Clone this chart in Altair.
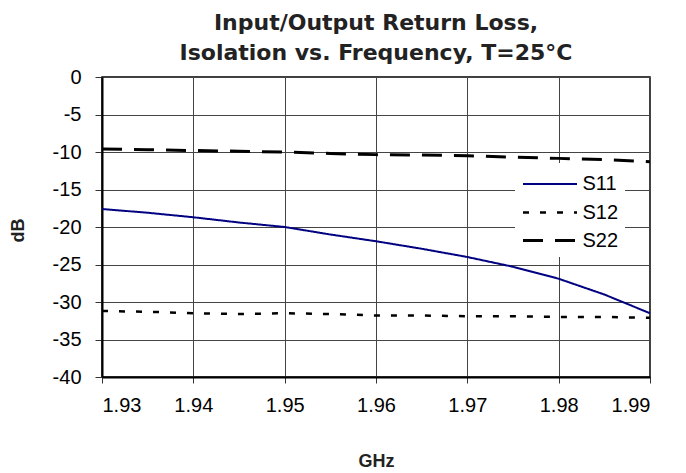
import altair as alt
import pandas as pd

freq = [1.93, 1.935, 1.94, 1.945, 1.95, 1.955, 1.96, 1.965, 1.97, 1.975, 1.98, 1.985, 1.99]
s11 = [-17.6, -18.1, -18.7, -19.4, -20.0, -21.0, -21.9, -22.9, -24.0, -25.3, -26.9, -29.0, -31.5]
s12 = [-31.2, -31.3, -31.5, -31.6, -31.5, -31.6, -31.8, -31.8, -31.9, -31.9, -32.0, -32.0, -32.1]
s22 = [-9.6, -9.7, -9.8, -9.9, -10.0, -10.2, -10.35, -10.4, -10.5, -10.7, -10.85, -11.0, -11.3]
series = ["S11", "S12", "S22"]
x_ticks = [1.93, 1.94, 1.95, 1.96, 1.97, 1.98, 1.99]
y_ticks = [0, -5, -10, -15, -20, -25, -30, -35, -40]
title_lines = ["Input/Output Return Loss,", "Isolation vs. Frequency, T=25°C"]

rows = []
for name, vals in zip(series, [s11, s12, s22]):
    for f, v in zip(freq, vals):
        rows.append({"freq": f, "dB": v, "series": name})
df = pd.DataFrame(rows)

FONT = "Liberation Sans"

legend = alt.Legend(
    title=None, orient="none", legendX=413, legendY=86,
    fillColor="white", padding=6.5, strokeColor=None,
    symbolType="M-1,0H3", symbolSize=729, symbolStrokeWidth=2.5,
    labelFont=FONT, labelFontSize=20, labelColor="black", labelOffset=31,
    rowPadding=3,
)

chart = alt.Chart(df).mark_line(clip=True).encode(
    x=alt.X("freq:Q",
            scale=alt.Scale(domain=[1.93, 1.99], nice=False, zero=False),
            axis=alt.Axis(values=x_ticks, format=".2f", title="GHz",
                          titleY=84, titleBaseline="middle",
                          labelPadding=12, tickSize=6)),
    y=alt.Y("dB:Q",
            scale=alt.Scale(domain=[-40, 0], nice=False),
            axis=alt.Axis(values=y_ticks, labelExpr="'' + datum.value", title="dB",
                          titleX=-84, titleY=153, titleAlign="center",
                          titleBaseline="middle", titleAngle=270,
                          labelPadding=14, tickSize=7)),
    color=alt.Color("series:N",
                    scale=alt.Scale(domain=series, range=["#000080", "#000000", "#000000"]),
                    legend=legend),
    strokeDash=alt.StrokeDash("series:N",
                              scale=alt.Scale(domain=series, range=[[1, 0], [6, 11], [20, 12]]),
                              legend=legend),
    strokeWidth=alt.StrokeWidth("series:N",
                                scale=alt.Scale(domain=series, range=[2, 3, 3]),
                                legend=None),
).properties(
    width=548, height=300,
    title=alt.TitleParams(text=title_lines, font="DejaVu Sans", fontSize=22, fontWeight="bold",
                          color="#222222", anchor="middle", offset=2, lineHeight=30),
).configure(
    autosize=alt.AutoSizeParams(type="none"),
    padding={"left": 94, "top": 69, "right": 28, "bottom": 96},
    background="white",
).configure_view(
    stroke="black", strokeWidth=1.5,
).configure_axis(
    labelFont=FONT, labelFontSize=20, labelColor="black",
    titleFont=FONT, titleFontSize=18, titleFontWeight="bold", titleColor="#222222",
    domainColor="black", domainWidth=2, tickColor="#333333", tickWidth=1,
    grid=True, gridColor="#444444", gridWidth=1,
)

chart.save("out.html", embed_options={"renderer": "svg", "actions": False})
